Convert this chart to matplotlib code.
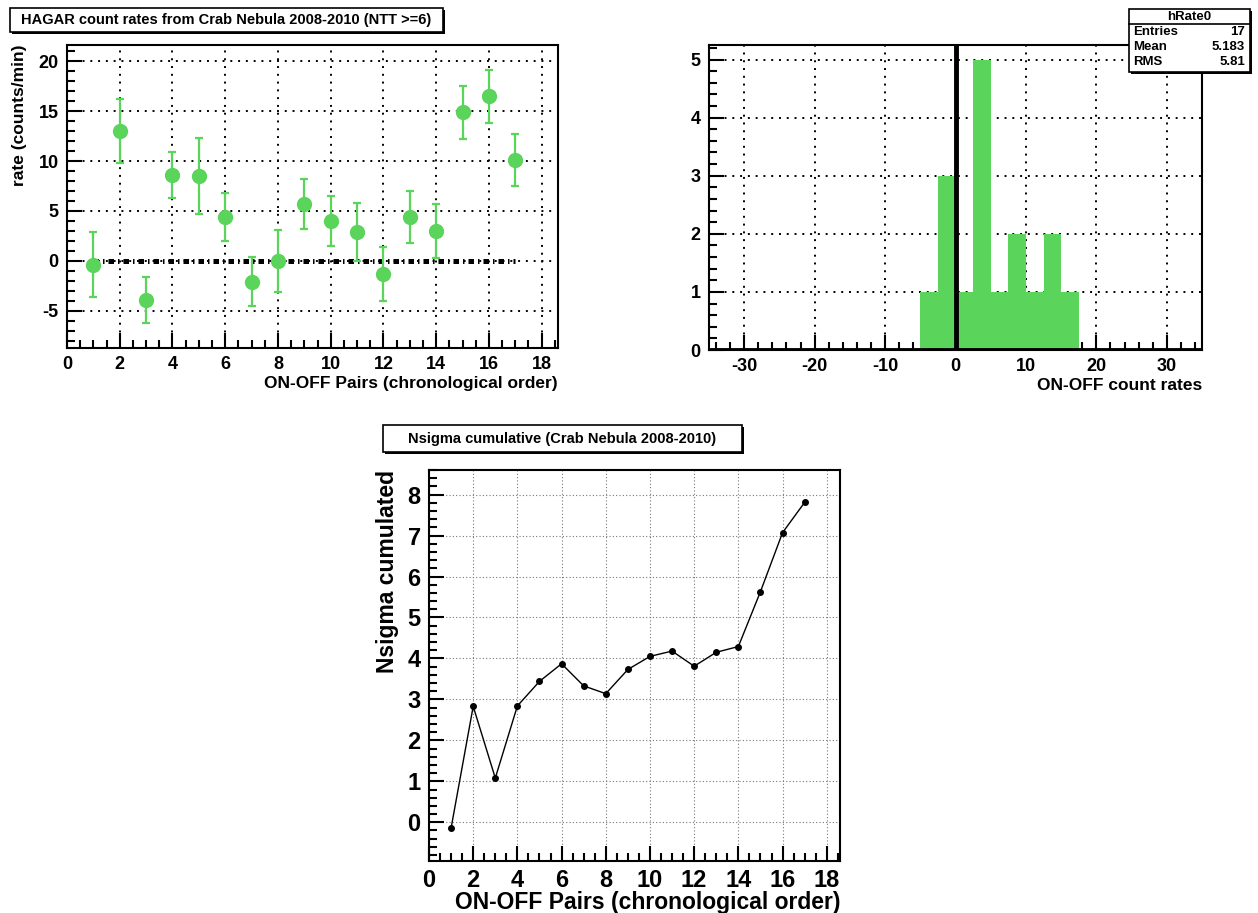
import numpy as np
import matplotlib
matplotlib.use("Agg")
import matplotlib.pyplot as plt
from matplotlib.patches import Rectangle
from matplotlib.ticker import MultipleLocator

plt.rcParams['font.family'] = ['Liberation Sans', 'DejaVu Sans']
plt.rcParams['font.weight'] = 'bold'
plt.rcParams['axes.unicode_minus'] = False

# ON-OFF count rates per pair (counts/min) and their errors
pairs = np.arange(1, 18)
rate = [-0.4, 13.0, -3.9, 8.6, 8.5, 4.4, -2.1, 0.0, 5.7, 4.0, 2.9, -1.3, 4.4, 3.0, 14.9, 16.5, 10.1]
rate_err = [3.25, 3.2, 2.3, 2.3, 3.8, 2.45, 2.45, 3.1, 2.5, 2.55, 2.9, 2.7, 2.6, 2.7, 2.65, 2.65, 2.6]

# cumulative significance
nsigma = [-0.14, 2.83, 1.08, 2.84, 3.44, 3.87, 3.33, 3.14, 3.73, 4.05, 4.18, 3.81, 4.15, 4.29, 5.63, 7.07, 7.81]

# histogram binning (hRate0)
hist_bins = np.arange(-35, 35.01, 2.5)
stats_labels = ["Entries", "Mean", "RMS"]
stats_values = ["17", "5.183", "5.81"]

GREEN = '#5ad45a'
W, H = 1258, 913


def ax_box(left, top, right, bottom):
    """pixel box -> figure fraction rect"""
    return [left / W, 1 - bottom / H, (right - left) / W, (bottom - top) / H]


def root_style(ax, grid_color='k', grid_lw=1.4, grid_dash=(1, 3)):
    for s in ax.spines.values():
        s.set_linewidth(1.5)
    ax.tick_params(which='both', direction='in', top=False, right=False, width=1.5)
    ax.tick_params(which='major', length=11)
    ax.tick_params(which='minor', length=6)
    ax.grid(True, which='major', color=grid_color, lw=grid_lw, linestyle=(0, grid_dash))
    ax.set_axisbelow(True)


def title_box(left, top, right, bottom, text, size):
    fig.patches.append(Rectangle((left / W + 2 / W, 1 - bottom / H - 2 / H), (right - left) / W, (bottom - top) / H,
                                 transform=fig.transFigure, facecolor='k', edgecolor='k', lw=0, zorder=1))
    fig.patches.append(Rectangle((left / W, 1 - bottom / H), (right - left) / W, (bottom - top) / H,
                                 transform=fig.transFigure, facecolor='white', edgecolor='k', lw=1.2, zorder=2))
    fig.text((left + right) / 2 / W, 1 - (top + bottom) / 2 / H, text, ha='center', va='center',
             fontsize=size, fontweight='bold', zorder=3)


fig = plt.figure(figsize=(W / 100, H / 100), dpi=100)

# --- top left: count rates vs pair number
ax1 = fig.add_axes(ax_box(67, 45, 558, 348))
root_style(ax1)
ax1.plot([1, 17], [0, 0], color='k', lw=3.6, linestyle=(0, (1.1, 0.8, 0.3, 0.8)), zorder=2)
ax1.errorbar(pairs, rate, yerr=rate_err, fmt='o', color=GREEN, markersize=10, elinewidth=1.6,
             capsize=3, capthick=1.6, zorder=3)
ax1.set_xlim(0, 18.62)
ax1.set_ylim(-8.73, 21.63)
ax1.xaxis.set_major_locator(MultipleLocator(2))
ax1.xaxis.set_minor_locator(MultipleLocator(0.5))
ax1.yaxis.set_major_locator(MultipleLocator(5))
ax1.yaxis.set_minor_locator(MultipleLocator(1))
ax1.tick_params(labelsize=13, pad=6)
ax1.set_xlabel("ON-OFF Pairs (chronological order)", fontsize=12.5, fontweight='bold', loc='right', labelpad=2)
ax1.set_ylabel("rate (counts/min)", fontsize=12.5, fontweight='bold', loc='top', labelpad=8)
title_box(10, 8, 443, 32, "HAGAR count rates from Crab Nebula 2008-2010 (NTT >=6)", 10.5)

# --- top right: histogram of rates
ax2 = fig.add_axes(ax_box(709, 45, 1202, 350))
root_style(ax2)
ax2.hist(rate, bins=hist_bins, color=GREEN, histtype='stepfilled', lw=0, zorder=2)
ax2.plot([0, 0], [0, 5.25], color='k', lw=3.5, zorder=3)
ax2.axhline(0, color='k', lw=3.5, zorder=3)
ax2.set_xlim(-35, 35)
ax2.set_ylim(0, 5.25)
ax2.xaxis.set_major_locator(MultipleLocator(10))
ax2.xaxis.set_minor_locator(MultipleLocator(2))
ax2.yaxis.set_major_locator(MultipleLocator(1))
ax2.yaxis.set_minor_locator(MultipleLocator(0.2))
ax2.tick_params(labelsize=13, pad=6)
ax2.set_xlabel("ON-OFF count rates", fontsize=12.5, fontweight='bold', loc='right', labelpad=2)

# stats box
sx0, sy0, sx1, sy1 = 1129, 9, 1250, 72
fig.patches.append(Rectangle((sx0 / W + 2 / W, 1 - sy1 / H - 2 / H), (sx1 - sx0) / W, (sy1 - sy0) / H,
                             transform=fig.transFigure, facecolor='k', lw=0, zorder=4))
fig.patches.append(Rectangle((sx0 / W, 1 - sy1 / H), (sx1 - sx0) / W, (sy1 - sy0) / H,
                             transform=fig.transFigure, facecolor='white', edgecolor='k', lw=1.2, zorder=5))
fig.add_artist(plt.Line2D([sx0 / W, sx1 / W], [1 - 24 / H, 1 - 24 / H], transform=fig.transFigure,
                          color='k', lw=1.2, zorder=6))
fig.text((sx0 + sx1) / 2 / W, 1 - 16.5 / H, "hRate0", ha='center', va='center', fontsize=9.5, zorder=7)
for i, (lab, val) in enumerate(zip(stats_labels, stats_values)):
    yy = 1 - (32 + i * 15) / H
    fig.text((sx0 + 4) / W, yy, lab, ha='left', va='center', fontsize=9.5, zorder=7)
    fig.text((sx1 - 5) / W, yy, val, ha='right', va='center', fontsize=9.5, zorder=7)

# --- bottom: cumulative significance
ax3 = fig.add_axes(ax_box(429, 470, 840, 861))
root_style(ax3, grid_color='#777777', grid_lw=0.8, grid_dash=(1, 2))
ax3.plot(pairs, nsigma, color='k', lw=1.0, marker='o', markersize=4)
ax3.set_xlim(0, 18.6)
ax3.set_ylim(-0.945, 8.6)
ax3.xaxis.set_major_locator(MultipleLocator(2))
ax3.xaxis.set_minor_locator(MultipleLocator(0.5))
ax3.yaxis.set_major_locator(MultipleLocator(1))
ax3.yaxis.set_minor_locator(MultipleLocator(0.2))
ax3.tick_params(labelsize=17, pad=6)
ax3.set_xlabel("ON-OFF Pairs (chronological order)", fontsize=16.5, fontweight='bold', loc='right', labelpad=-1)
ax3.set_ylabel("Nsigma cumulated", fontsize=16.5, fontweight='bold', loc='top', labelpad=6)
title_box(383, 425, 742, 452, "Nsigma cumulative (Crab Nebula 2008-2010)", 10.5)

fig.savefig("out.png", dpi=100)
